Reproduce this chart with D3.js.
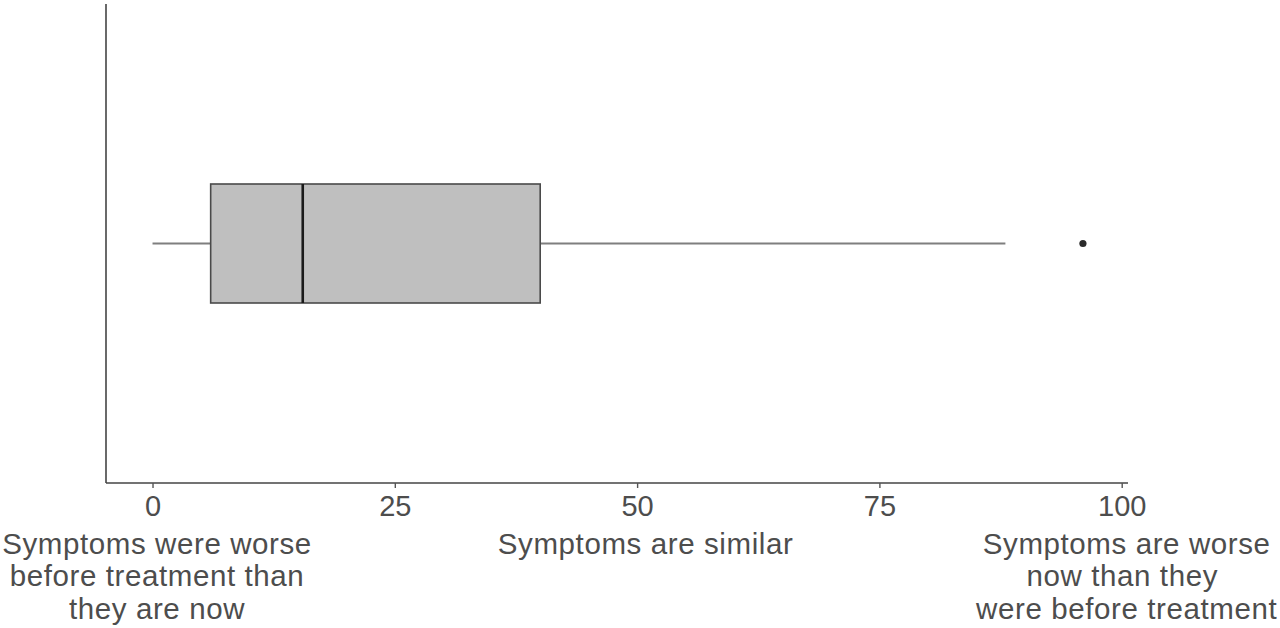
<!DOCTYPE html>
<html><head><meta charset="utf-8">
<script src="https://cdn.jsdelivr.net/npm/d3@7"></script>
<style>body{margin:0;background:#fff}svg{display:block}</style>
</head><body>
<svg id="c" width="1280" height="628"></svg>
<script>
// ---- data ----
const boxStats = { q1: 6, median: 15.5, q3: 40, whiskerLow: 0, whiskerHigh: 88 };
const outliers = [96];
const tickValues = [0, 25, 50, 75, 100];
const tickLabels = ["0", "25", "50", "75", "100"];
const extraLabelTicks = [0, 50, 100];
const extraLabels = [
  ["Symptoms were worse", "before treatment than", "they are now"],
  ["Symptoms are similar"],
  ["Symptoms are worse", "now than they\u00A0", "were before treatment"]
];

(function () {
const svg = d3.select("#c");
const pLeft = 106, pRight = 1128, pTop = 4, pBottom = 483;
const x = d3.scaleLinear().domain([-4.8, 100.65]).range([pLeft, pRight]);
const y = d3.scaleBand().domain(["a"]).range([pTop, pBottom]).paddingInner(0).paddingOuter(0);
const cy = y("a") + y.bandwidth() / 2;
const boxH = 119;
const textCol = "#4d4d4d";
const font = "'Liberation Sans', Arial, sans-serif";
const groupOffset = [4.5, 8.5, 5];

// axes lines
svg.append("line").attr("x1", pLeft).attr("x2", pLeft).attr("y1", pTop).attr("y2", pBottom)
  .attr("stroke", "#444").attr("stroke-width", 1.6);
const xAxis = d3.axisBottom(x).tickValues(tickValues).tickFormat((d, i) => tickLabels[i]).tickSize(5).tickSizeOuter(0);
const gx = svg.append("g").attr("transform", `translate(0,${pBottom})`).call(xAxis);
gx.select(".domain").attr("stroke", "#444").attr("stroke-width", 1.6)
  .attr("d", `M${pLeft},0H${pRight}`);
gx.selectAll(".tick line").attr("stroke", "#555").attr("stroke-width", 1.4);
gx.selectAll(".tick text").attr("fill", textCol).attr("font-family", font).attr("font-size", 29)
  .attr("dy", null).attr("y", 33);

// extra multi-line labels
extraLabels.forEach((lines, i) => {
  const t = svg.append("text").attr("font-family", font).attr("font-size", 29.5).attr("fill", textCol)
    .attr("letter-spacing", 0.6).attr("text-anchor", "middle");
  lines.forEach((ln, j) => {
    t.append("tspan").attr("x", x(extraLabelTicks[i]) + groupOffset[i]).attr("y", 553.5 + j * 32.5).text(ln);
  });
});

// whiskers
svg.append("line").attr("x1", x(boxStats.whiskerLow)).attr("x2", x(boxStats.q1))
  .attr("y1", cy).attr("y2", cy).attr("stroke", "#7f7f7f").attr("stroke-width", 2.2);
svg.append("line").attr("x1", x(boxStats.q3)).attr("x2", x(boxStats.whiskerHigh))
  .attr("y1", cy).attr("y2", cy).attr("stroke", "#7f7f7f").attr("stroke-width", 2.2);

// box
svg.append("rect").attr("x", x(boxStats.q1)).attr("y", cy - boxH / 2)
  .attr("width", x(boxStats.q3) - x(boxStats.q1)).attr("height", boxH)
  .attr("fill", "#bfbfbf").attr("stroke", "#4a4a4a").attr("stroke-width", 1.6);
svg.append("line").attr("x1", x(boxStats.median)).attr("x2", x(boxStats.median))
  .attr("y1", cy - boxH / 2).attr("y2", cy + boxH / 2).attr("stroke", "#1a1a1a").attr("stroke-width", 2.6);

// outliers
svg.selectAll("circle.o").data(outliers).enter().append("circle")
  .attr("cx", d => x(d)).attr("cy", cy).attr("r", 3.6).attr("fill", "#2a2a2a");
})();
</script>
</body></html>
